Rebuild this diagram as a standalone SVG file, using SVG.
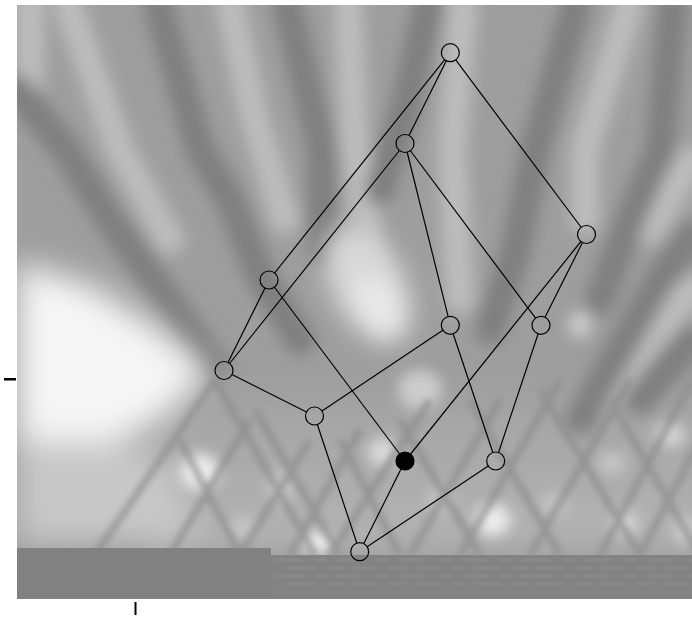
<svg xmlns="http://www.w3.org/2000/svg" width="692" height="618" viewBox="0 0 692 618">
<defs>
<style>
.e{stroke:#000;stroke-width:1.2;fill:none}
.n{fill:none;stroke:#000;stroke-width:1.2}
.f{fill:#000;stroke:#000;stroke-width:1.2}
.d{stroke:#7f7f7f;fill:none;stroke-width:30;stroke-linecap:round;stroke-linejoin:round}
.l{stroke:#bdbdbd;fill:none;stroke-width:28;stroke-linecap:round;stroke-linejoin:round}
.x{stroke:#8a8a8a;fill:none;stroke-width:7}
</style>
<clipPath id="img"><rect x="17" y="5" width="675" height="594"/></clipPath>
<filter id="b1" filterUnits="userSpaceOnUse" x="-100" y="-100" width="900" height="800"><feGaussianBlur stdDeviation="8"/></filter>
<filter id="b2" filterUnits="userSpaceOnUse" x="-100" y="-100" width="900" height="800"><feGaussianBlur stdDeviation="16"/></filter>
<filter id="b3" filterUnits="userSpaceOnUse" x="-100" y="-100" width="900" height="800"><feGaussianBlur stdDeviation="3"/></filter>
<filter id="b4" filterUnits="userSpaceOnUse" x="-100" y="-100" width="900" height="800"><feGaussianBlur stdDeviation="7"/></filter>
<filter id="b5" filterUnits="userSpaceOnUse" x="-100" y="-100" width="900" height="800"><feGaussianBlur stdDeviation="13"/></filter>
<linearGradient id="low" x1="0" y1="0" x2="0" y2="1">
<stop offset="0" stop-color="#a4a4a4"/><stop offset="1" stop-color="#b4b4b4"/>
</linearGradient>
<mask id="holes" maskUnits="userSpaceOnUse" x="0" y="0" width="692" height="618">
<rect x="0" y="0" width="692" height="618" fill="#fff"/>
<g fill="#000">
<circle cx="450.3" cy="52.7" r="9"/><circle cx="405" cy="143.5" r="9"/><circle cx="586.5" cy="234.5" r="9"/>
<circle cx="269" cy="280" r="9"/><circle cx="450.3" cy="325.3" r="9"/><circle cx="541" cy="325.3" r="9"/>
<circle cx="224" cy="370.5" r="9"/><circle cx="314.5" cy="416" r="9"/><circle cx="405" cy="461" r="9"/>
<circle cx="495.7" cy="461" r="9"/><circle cx="359.7" cy="551.7" r="9"/>
</g>
</mask>
</defs>

<g id="background" clip-path="url(#img)">
<rect x="17" y="5" width="675" height="594" fill="#9e9e9e"/>
<g filter="url(#b2)">
<rect x="150" y="400" width="560" height="150" fill="url(#low)"/>
</g>
<g filter="url(#b1)">
<path class="l" d="M30,5 L30,80"/>
<path class="l" d="M68,5 L120,150 L170,240"/>
<path class="l" d="M230,5 L255,120 L285,220"/>
<path class="l" d="M348,5 L355,150 L370,250 L385,320" stroke="#c6c6c6"/>
<path class="l" d="M463,5 L452,150 L460,300"/>
<path class="l" d="M629,5 L585,150 L585,220"/>
<path class="l" d="M692,160 L650,230"/>
<path class="l" d="M692,290 L640,350 L600,400"/>
<path class="d" d="M17,90 L66,150 L110,220 L215,365"/>
<path class="d" d="M158,5 L200,150 L230,200 L260,275 L300,340"/>
<path class="d" d="M287,5 L322,150 L322,250"/>
<path class="d" d="M428,5 L405,110 L380,190"/>
<path class="d" d="M576,5 L535,150 L516,250 L490,330"/>
<path class="d" d="M673,5 L660,150 L630,220 L600,300"/>
<path class="d" d="M692,235 L660,280 L620,350 L580,420"/>
<path class="d" d="M692,340 L640,400"/>
</g>
<g filter="url(#b2)">
<polygon points="17,262 90,285 160,330 210,372 160,420 100,450 17,470" fill="#f6f6f6"/>
<polygon points="17,440 110,440 170,460 200,540 17,545" fill="#c8c8c8"/>
</g>
<g filter="url(#b5)">
<ellipse cx="368" cy="285" rx="36" ry="64" transform="rotate(-28 368 285)" fill="#d8d8d8"/>
<ellipse cx="378" cy="305" rx="18" ry="30" transform="rotate(-30 378 305)" fill="#ececec"/>
</g>
<g filter="url(#b4)">
<ellipse cx="200" cy="472" rx="20" ry="18" fill="#ececec"/>
<ellipse cx="318" cy="543" rx="16" ry="10" fill="#f2f2f2"/>
<ellipse cx="493" cy="520" rx="18" ry="16" fill="#ececec"/>
<ellipse cx="382" cy="452" rx="14" ry="14" fill="#dcdcdc"/>
<ellipse cx="420" cy="390" rx="22" ry="20" fill="#cccccc"/>
<ellipse cx="580" cy="325" rx="12" ry="14" fill="#c8c8c8"/>
<ellipse cx="670" cy="435" rx="16" ry="12" fill="#d4d4d4"/>
<ellipse cx="612" cy="463" rx="14" ry="10" fill="#c8c8c8"/>
<ellipse cx="625" cy="523" rx="14" ry="12" fill="#d4d4d4"/>
<ellipse cx="685" cy="530" rx="10" ry="14" fill="#d0d0d0"/>
<ellipse cx="280" cy="487" rx="12" ry="16" fill="#cccccc"/>
<ellipse cx="243" cy="528" rx="14" ry="10" fill="#c8c8c8"/>
<ellipse cx="440" cy="500" rx="12" ry="14" fill="#c4c4c4"/>
<ellipse cx="555" cy="505" rx="14" ry="12" fill="#c4c4c4"/>
</g>
<g filter="url(#b3)" opacity="0.7">
<path class="x" d="M215,380 L95,555 M250,420 L170,555 M310,440 L240,555 M360,430 L290,555 M430,400 L330,555 M500,400 L410,555 M560,380 L460,555 M630,380 L530,555 M692,380 L600,555 M700,440 L640,555"/>
<path class="x" d="M215,380 L315,555 M180,440 L240,555 M255,410 L340,555 M340,440 L400,555 M400,420 L480,555 M470,400 L560,555 M540,390 L640,555 M610,400 L700,555"/>
</g>
<rect x="17" y="548" width="254" height="51" fill="#818181"/>
<rect x="271" y="555" width="421" height="44" fill="#838383"/>
<path d="M275,560 H692 M290,568 H692 M275,576 H692 M290,584 H692" stroke="#8a8a8a" stroke-width="3" stroke-dasharray="26 12 14 10"/>
</g>

<g id="ticks" fill="#000">
<rect x="4" y="378" width="12" height="2.5"/>
<rect x="134.5" y="602" width="2" height="13"/>
</g>

<g id="edges" class="e" mask="url(#holes)">
<line x1="450.3" y1="52.7" x2="269" y2="280"/>
<line x1="450.3" y1="52.7" x2="405" y2="143.5"/>
<line x1="450.3" y1="52.7" x2="586.5" y2="234.5"/>
<line x1="405" y1="143.5" x2="224" y2="370.5"/>
<line x1="405" y1="143.5" x2="450.3" y2="325.3"/>
<line x1="405" y1="143.5" x2="541" y2="325.3"/>
<line x1="586.5" y1="234.5" x2="405" y2="461"/>
<line x1="586.5" y1="234.5" x2="541" y2="325.3"/>
<line x1="269" y1="280" x2="224" y2="370.5"/>
<line x1="269" y1="280" x2="405" y2="461"/>
<line x1="224" y1="370.5" x2="314.5" y2="416"/>
<line x1="314.5" y1="416" x2="450.3" y2="325.3"/>
<line x1="314.5" y1="416" x2="359.7" y2="551.7"/>
<line x1="450.3" y1="325.3" x2="495.7" y2="461"/>
<line x1="541" y1="325.3" x2="495.7" y2="461"/>
<line x1="405" y1="461" x2="359.7" y2="551.7"/>
<line x1="495.7" y1="461" x2="359.7" y2="551.7"/>
</g>

<g id="n1"><circle class="n" cx="450.3" cy="52.7" r="9"/></g>
<g id="n2"><circle class="n" cx="405" cy="143.5" r="9"/></g>
<g id="n3"><circle class="n" cx="586.5" cy="234.5" r="9"/></g>
<g id="n4"><circle class="n" cx="269" cy="280" r="9"/></g>
<g id="n5"><circle class="n" cx="450.3" cy="325.3" r="9"/></g>
<g id="n6"><circle class="n" cx="541" cy="325.3" r="9"/></g>
<g id="n7"><circle class="n" cx="224" cy="370.5" r="9"/></g>
<g id="n8"><circle class="n" cx="314.5" cy="416" r="9"/></g>
<g id="n9"><circle class="f" cx="405" cy="461" r="9"/></g>
<g id="n10"><circle class="n" cx="495.7" cy="461" r="9"/></g>
<g id="n11"><circle class="n" cx="359.7" cy="551.7" r="9"/></g>
</svg>
